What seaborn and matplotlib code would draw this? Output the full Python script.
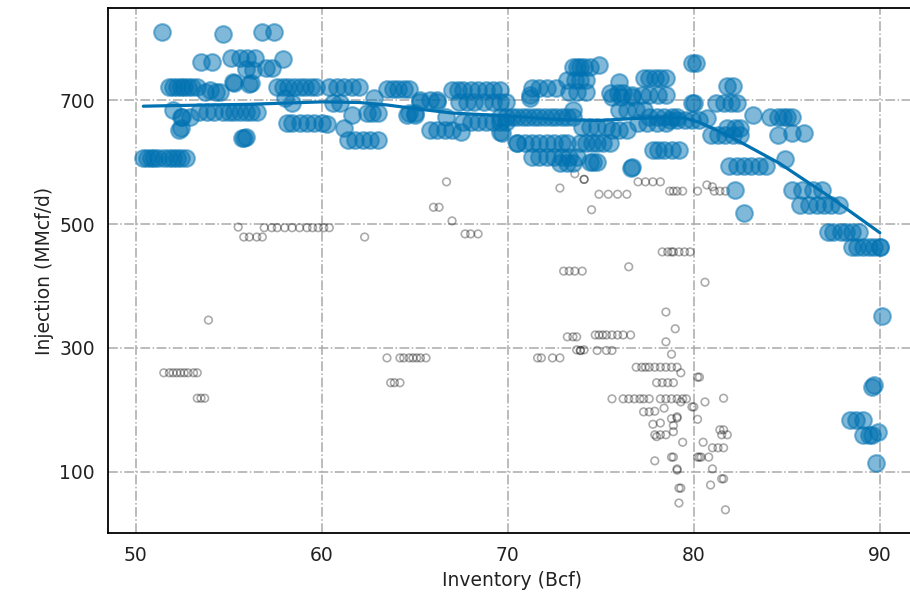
import matplotlib
matplotlib.use("Agg")
import matplotlib.pyplot as plt
import seaborn as sns
import pandas as pd

# ---------------- data ----------------
blue_x = [51.4, 54.7, 56.8, 57.4,
          53.5, 54.1,
          55.1, 55.6, 56.0, 56.4,
          55.9, 56.3, 57.0, 57.3, 57.9,
          55.3, 56.1, 55.2, 56.2,
          51.8, 52.0, 52.2, 52.4, 52.6, 52.8, 53.0, 53.3,
          53.7, 54.0, 54.3, 54.5,
          52.0, 52.4, 52.9, 52.5, 52.3, 52.4,
          53.8, 54.2, 54.7, 55.0, 55.3, 55.6, 55.9, 56.2, 56.5, 53.4,
          55.7, 55.8, 55.9,
          50.4, 50.6, 50.8, 51.0, 51.2, 51.5, 51.8, 52.0, 52.2, 52.4, 52.7,
          57.6, 57.9, 58.2, 58.5, 58.8, 59.1, 59.4, 59.7,
          58.4, 58.0,
          58.1, 58.4, 58.8, 59.2, 59.6, 60.0, 60.3,
          60.4, 60.8, 61.2, 61.6, 62.0,
          60.6, 61.0, 61.2, 61.6,
          61.4, 61.8, 62.2, 62.6, 63.0,
          62.4, 62.7, 63.0, 62.8,
          63.5, 63.8, 64.1, 64.4, 64.7,
          64.6, 65.0, 65.3,
          65.8, 66.2, 66.6, 67.0,
          66.7, 66.2,
          67.0, 67.3, 67.6, 68.0, 68.4, 68.8, 69.2, 69.6,
          67.4, 67.8, 68.2, 68.7, 69.2, 69.6, 69.9,
          67.6, 68.0, 68.4, 68.8, 69.2, 69.6, 69.9,
          69.7, 70.5,
          65.3, 65.8, 66.2, 64.7, 65.0, 67.5, 69.6,
          71.2, 71.2,
          71.3, 71.7, 72.1, 72.6,
          73.2, 73.6, 73.9, 74.2,
          73.5, 73.7, 73.9, 74.1, 74.4, 74.9,
          73.3, 73.7, 74.2,
          69.6, 69.9, 70.2, 70.5, 70.8, 71.1, 71.4, 71.7, 72.0, 72.3, 72.6, 72.9, 73.2, 73.5,
          73.5,
          70.5, 70.9, 71.3, 71.7, 72.1, 72.5, 72.9, 73.2,
          71.3, 71.7, 72.1, 72.5, 72.9, 73.3, 73.7,
          72.8, 73.2, 73.5,
          73.9, 74.2, 74.5, 74.8, 75.1, 75.5,
          74.4, 74.6, 74.8,
          74.0, 74.4, 74.8, 75.3,
          75.6, 76.0, 76.4,
          75.5, 75.9, 76.2, 76.0,
          75.6, 76.1, 76.7,
          76.7, 77.2, 77.6, 78.1, 78.5,
          77.3, 77.6, 77.9, 78.2, 78.5,
          76.0, 76.4, 76.9, 77.3,
          77.6, 78.0, 78.4, 78.8, 79.1,
          77.8, 78.1, 78.4, 78.8, 79.2,
          76.7, 76.6,
          79.9, 80.1, 79.9, 80.0,
          78.7, 79.1, 79.5, 79.9, 80.3, 80.7,
          77.0, 77.5, 78.0, 78.5,
          81.8, 82.1,
          81.2, 81.6, 82.0, 82.3,
          80.9, 81.3, 81.7, 82.1, 82.5,
          81.8, 82.2, 82.5,
          83.2,
          84.1, 84.5, 84.8, 85.0, 85.3,
          84.5, 85.3, 85.9,
          81.9, 82.3, 82.7, 83.1, 83.5, 83.9,
          84.9, 82.2, 82.7,
          85.3, 85.8, 86.4, 86.9,
          85.7, 86.2, 86.6, 87.0, 87.4, 87.8,
          87.2, 87.5, 87.9, 88.2, 88.5, 88.9,
          88.5, 88.8, 89.1, 89.4, 89.7, 90.0, 90.0,
          90.1, 89.6, 89.7,
          88.4, 88.7, 89.1,
          89.1, 89.4, 89.6,
          89.9, 89.8]
blue_y = [810, 806, 810, 810,
          761, 761,
          768, 768, 768, 768,
          750, 748, 752, 752, 766,
          727, 726, 729, 727,
          721, 721, 721, 721, 721, 721, 721, 721,
          713, 716, 713, 713,
          684, 673, 673, 673, 652, 655,
          681, 681, 681, 681, 681, 681, 681, 681, 681, 681,
          639, 639, 640,
          606, 606, 606, 606, 606, 606, 606, 606, 606, 606, 606,
          721, 721, 721, 721, 721, 721, 721, 721,
          695, 703,
          663, 663, 663, 663, 663, 663, 662,
          721, 721, 721, 721, 721,
          695, 695, 655, 676,
          635, 635, 635, 635, 635,
          679, 679, 679, 703,
          718, 718, 718, 718, 718,
          676, 676, 697,
          652, 652, 652, 652,
          673, 697,
          716, 716, 716, 716, 716, 716, 716, 716,
          697, 697, 697, 697, 697, 697, 697,
          665, 665, 665, 665, 665, 665, 665,
          647, 631,
          700, 700, 700, 679, 679, 648, 648,
          703, 708,
          719, 719, 719, 719,
          732, 732, 732, 732,
          753, 753, 753, 753, 753, 756,
          713, 713, 713,
          673, 673, 673, 673, 673, 673, 673, 673, 673, 673, 673, 673, 673, 673,
          684,
          631, 631, 631, 631, 631, 631, 631, 631,
          608, 608, 608, 608, 608, 608, 608,
          598, 598, 598,
          631, 631, 631, 631, 631, 631,
          600, 600, 600,
          657, 657, 657, 657,
          652, 652, 652,
          711, 711, 711, 729,
          705, 705, 705,
          708, 708, 708, 708, 708,
          735, 735, 735, 735, 735,
          684, 684, 684, 684,
          673, 673, 673, 673, 673,
          619, 619, 619, 619, 619,
          592, 590,
          759, 759, 695, 695,
          668, 668, 668, 668, 668, 671,
          663, 663, 663, 663,
          722, 722,
          695, 695, 695, 695,
          644, 644, 644, 644, 644,
          655, 655, 655,
          676,
          673, 673, 673, 673, 673,
          644, 647, 647,
          594, 594, 594, 594, 594, 594,
          605, 555, 518,
          555, 555, 555, 555,
          531, 531, 531, 531, 531, 531,
          487, 487, 487, 487, 487, 487,
          463, 463, 463, 463, 463, 463, 463,
          352, 237, 240,
          184, 184, 184,
          160, 160, 160,
          165, 114]

grey_x = [55.5, 55.8, 56.1, 56.5, 56.8,
          56.9, 57.3, 57.6, 58.0, 58.4, 58.8, 59.2, 59.5, 59.8, 60.1, 60.4,
          62.3,
          66.7, 66.0, 66.3, 67.0, 67.7, 68.0, 68.4,
          72.8, 73.6, 74.1, 74.1, 74.5,
          74.9, 75.4, 75.9, 76.4,
          76.5,
          77.0, 77.4, 77.8, 78.2,
          78.7, 78.9, 79.1, 79.4, 80.2,
          80.7, 81.0, 81.1, 81.4, 81.7,
          73.0, 73.3, 73.6, 74.0,
          78.3, 78.6, 78.8, 78.9, 79.2, 79.5, 79.8,
          80.6, 78.5, 79.0,
          73.2, 73.5, 73.7,
          74.7, 74.9, 75.1, 75.3, 75.6, 75.9, 76.2, 76.6,
          53.9,
          51.5, 51.8, 52.0, 52.2, 52.4, 52.6, 52.8, 53.1, 53.3,
          53.3, 53.5, 53.7,
          63.5, 64.2, 64.4, 64.7, 64.9, 65.1, 65.3, 65.6,
          63.7, 63.9, 64.2,
          71.6, 71.8, 72.4, 72.8,
          73.9, 73.9, 73.7, 74.1, 74.8, 75.3, 75.6,
          78.5, 78.8,
          76.9, 77.2, 77.4, 77.6, 77.9, 78.2, 78.5, 78.8, 79.1,
          79.3,
          78.0, 78.3, 78.6, 78.9,
          75.6,
          76.2, 76.5, 76.8, 77.1, 77.3, 77.6,
          78.2, 78.5, 78.8, 79.1, 79.4, 79.6,
          77.3, 77.6, 77.9, 78.4,
          77.8, 78.2, 78.9, 78.8, 79.1, 79.1,
          77.9, 78.0, 78.2, 78.5, 78.9,
          79.4, 77.9, 78.8, 78.9, 79.1,
          79.2, 79.3, 79.1, 79.2,
          79.9, 80.0, 80.2, 80.3,
          80.2, 80.3,
          80.6, 80.2, 81.6, 79.3,
          81.4, 81.6, 81.8, 81.5,
          80.5, 81.0, 81.3, 81.6,
          80.4, 80.8,
          81.0, 81.5, 81.6, 80.9, 81.7]
grey_y = [495, 479, 479, 479, 479,
          494, 494, 494, 494, 494, 494, 494, 494, 494, 494, 494,
          479,
          568, 527, 527, 505, 484, 484, 484,
          558, 581, 572, 572, 523,
          548, 548, 548, 548,
          431,
          568, 568, 568, 568,
          553, 553, 553, 553, 553,
          563, 560, 553, 553, 553,
          424, 424, 424, 424,
          455, 455, 455, 455, 455, 455, 455,
          406, 358, 331,
          318, 318, 318,
          321, 321, 321, 321, 321, 321, 321, 321,
          345,
          260, 260, 260, 260, 260, 260, 260, 260, 260,
          219, 219, 219,
          284, 284, 284, 284, 284, 284, 284, 284,
          244, 244, 244,
          284, 284, 284, 284,
          296, 296, 297, 297, 296, 296, 296,
          310, 290,
          269, 269, 269, 269, 269, 269, 269, 269, 269,
          260,
          244, 244, 244, 244,
          218,
          218, 218, 218, 218, 218, 218,
          218, 218, 218, 218, 218, 218,
          197, 197, 198, 203,
          177, 179, 175, 186, 187, 189,
          160, 157, 160, 160, 165,
          148, 118, 124, 124, 103,
          74, 74, 105, 50,
          205, 205, 253, 253,
          124, 124,
          213, 185, 219, 213,
          168, 168, 160, 160,
          148, 139, 139, 139,
          124, 124,
          105, 89, 89, 79, 39]

fit_x = [50.4, 52.0, 54.0, 56.0, 58.0, 60.0, 62.0, 63.5, 65.3, 67.0, 68.9,
         70.6, 72.0, 73.2, 74.9, 76.7, 78.5, 79.5, 80.3, 81.9, 84.6, 87.3, 90.0]
fit_y = [690, 691, 692, 693, 695, 697, 696, 692, 685, 679, 676,
         673, 670, 668, 667, 670, 672, 671, 664, 642, 598, 544, 486]

x_ticks = [50, 60, 70, 80, 90]
y_ticks = [100, 300, 500, 700]
x_label = "Inventory (Bcf)"
y_label = "Injection (MMcf/d)"

# ---------------- plot ----------------
sns.set_style("white")
plt.rcParams["font.family"] = ["DejaVu Sans"]

BLUE = "#0072b2"

fig = plt.figure(figsize=(9.1, 6.1), dpi=100)
ax = fig.add_axes([108 / 910, 77 / 610, 809 / 910, 525 / 610])

blue_df = pd.DataFrame({"x": blue_x, "y": blue_y})
grey_df = pd.DataFrame({"x": grey_x, "y": grey_y})
fit_df = pd.DataFrame({"x": fit_x, "y": fit_y})

sns.scatterplot(data=grey_df, x="x", y="y", ax=ax, s=30, marker="o",
                facecolor="none", edgecolor="black", linewidth=1.2,
                alpha=0.33, zorder=2)
sns.scatterplot(data=blue_df, x="x", y="y", ax=ax, s=145, marker="o",
                color=BLUE, edgecolor=BLUE, linewidth=1.5,
                alpha=0.5, zorder=3)
sns.lineplot(data=fit_df, x="x", y="y", ax=ax, color=BLUE, linewidth=2.3,
             sort=False, estimator=None, zorder=4)

ax.set_xlim(48.5, 92.0)
ax.set_ylim(1.6, 848.4)
ax.set_xticks(x_ticks)
ax.set_yticks(y_ticks)
ax.tick_params(axis="both", which="major", labelsize=13.5, length=6,
               width=1.2, direction="out", color="black", labelcolor="#222222")
ax.grid(True, which="major", color="#aaaaaa", linestyle="-.", linewidth=1.1)
ax.set_axisbelow(True)
for sp in ax.spines.values():
    sp.set_visible(True)
    sp.set_color("black")
    sp.set_linewidth(1.3)

ax.set_xlabel(x_label, fontsize=13.5, color="#222222")
ax.set_ylabel(y_label, fontsize=13.5, color="#222222")

fig.savefig("out.png", dpi=100)
